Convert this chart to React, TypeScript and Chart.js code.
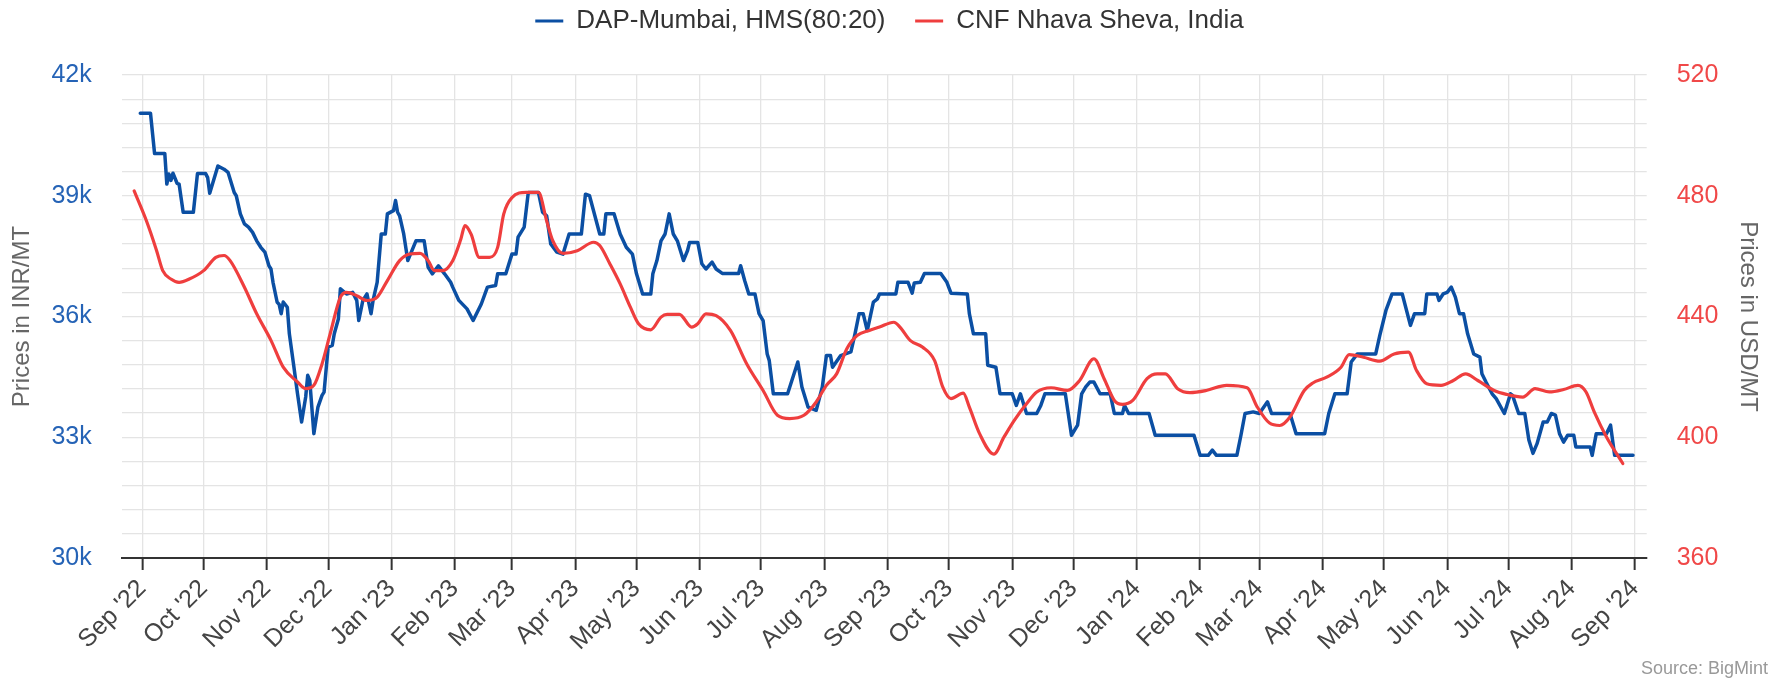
import React, { useEffect, useRef } from "react";
import { Chart, registerables } from "chart.js";

Chart.register(...registerables);

// ---------- DATA ----------
const dapDates = [
  "2022-08-31",
  "2022-09-05","2022-09-07","2022-09-12","2022-09-13","2022-09-14","2022-09-15","2022-09-16","2022-09-18","2022-09-19","2022-09-21","2022-09-26","2022-09-28",
  "2022-10-02","2022-10-03","2022-10-04","2022-10-08","2022-10-11","2022-10-13","2022-10-16","2022-10-17","2022-10-19","2022-10-21","2022-10-23","2022-10-25","2022-10-27","2022-10-29","2022-10-31",
  "2022-11-02","2022-11-03","2022-11-04","2022-11-06","2022-11-07","2022-11-08","2022-11-09","2022-11-11","2022-11-12","2022-11-14","2022-11-16","2022-11-18","2022-11-20","2022-11-21","2022-11-22","2022-11-24","2022-11-26","2022-11-28","2022-11-29",
  "2022-12-01","2022-12-03","2022-12-04","2022-12-06","2022-12-07","2022-12-10","2022-12-13","2022-12-15","2022-12-16","2022-12-18","2022-12-20","2022-12-22","2022-12-23","2022-12-25","2022-12-27","2022-12-29","2022-12-30",
  "2023-01-02","2023-01-03","2023-01-04","2023-01-05","2023-01-07","2023-01-09","2023-01-13","2023-01-17","2023-01-19","2023-01-21","2023-01-24","2023-01-27","2023-01-30","2023-01-31",
  "2023-02-03","2023-02-07","2023-02-10","2023-02-14","2023-02-17","2023-02-21","2023-02-22","2023-02-26",
  "2023-03-01","2023-03-03","2023-03-04","2023-03-07","2023-03-09","2023-03-14","2023-03-16","2023-03-18","2023-03-20","2023-03-23","2023-03-26","2023-03-29",
  "2023-04-04","2023-04-06","2023-04-08","2023-04-13","2023-04-15","2023-04-16","2023-04-20","2023-04-23","2023-04-26","2023-04-29",
  "2023-05-01","2023-05-04","2023-05-08","2023-05-09","2023-05-11","2023-05-13","2023-05-15","2023-05-17","2023-05-19","2023-05-21","2023-05-24","2023-05-26","2023-05-27","2023-05-31",
  "2023-06-02","2023-06-04","2023-06-07","2023-06-09","2023-06-12","2023-06-20","2023-06-21","2023-06-23","2023-06-25","2023-06-28","2023-06-30",
  "2023-07-02","2023-07-04","2023-07-05","2023-07-07","2023-07-14","2023-07-19","2023-07-21","2023-07-24","2023-07-28","2023-07-31",
  "2023-08-02","2023-08-04","2023-08-05","2023-08-09","2023-08-14","2023-08-16","2023-08-18","2023-08-20","2023-08-22","2023-08-25","2023-08-27","2023-08-28",
  "2023-09-05","2023-09-06","2023-09-11","2023-09-13","2023-09-14","2023-09-17","2023-09-19","2023-09-27","2023-09-30",
  "2023-10-02","2023-10-10","2023-10-11","2023-10-13","2023-10-19","2023-10-20","2023-10-24","2023-10-26",
  "2023-11-01","2023-11-03","2023-11-05","2023-11-08","2023-11-13","2023-11-15","2023-11-17","2023-11-27","2023-11-30",
  "2023-12-03","2023-12-05","2023-12-07","2023-12-09","2023-12-11","2023-12-14","2023-12-19","2023-12-21","2023-12-25","2023-12-26","2023-12-28",
  "2024-01-07","2024-01-10","2024-01-29",
  "2024-02-01","2024-02-05","2024-02-07","2024-02-09","2024-02-19","2024-02-21","2024-02-23","2024-02-27",
  "2024-03-01","2024-03-05","2024-03-07","2024-03-16","2024-03-19",
  "2024-04-02","2024-04-04","2024-04-07","2024-04-13","2024-04-15","2024-04-18","2024-04-27","2024-04-29",
  "2024-05-02","2024-05-05","2024-05-10","2024-05-14","2024-05-16","2024-05-21","2024-05-22","2024-05-27","2024-05-28","2024-05-30",
  "2024-06-01","2024-06-03","2024-06-05","2024-06-07","2024-06-09","2024-06-11","2024-06-14","2024-06-17","2024-06-18","2024-06-20","2024-06-23","2024-06-25","2024-06-29",
  "2024-07-02","2024-07-03","2024-07-06","2024-07-09","2024-07-11","2024-07-13","2024-07-15","2024-07-18","2024-07-20","2024-07-22","2024-07-24","2024-07-26","2024-07-28","2024-07-30",
  "2024-08-02","2024-08-03","2024-08-10","2024-08-11","2024-08-13","2024-08-18","2024-08-20","2024-08-22","2024-08-31",
];

const dapValues = [
  41050,
  41050,40050,40050,39290,39540,39380,39560,39310,39290,38590,38590,39550,
  39550,39450,39060,39740,39660,39580,39080,39000,38550,38300,38220,38090,37880,37720,37600,
  37260,37180,36850,36360,36300,36070,36360,36230,35570,34830,34080,33380,34000,34540,34410,33090,33750,34040,34120,
  35240,35280,35570,35940,36690,36560,36600,36400,35900,36400,36560,36070,36400,36850,38050,38050,38550,
  38630,38880,38590,38500,38050,37390,37880,37880,37220,37060,37260,37060,36850,36730,
  36400,36190,35900,36310,36730,36770,37060,37060,
  37550,37550,37970,38220,39080,39080,38590,38500,37800,37600,37550,38050,
  38050,39040,39000,38050,38050,38550,38550,38050,37720,37550,
  37060,36560,36560,37060,37390,37880,38050,38550,38050,37880,37390,37640,37840,37840,
  37310,37180,37350,37180,37070,37070,37260,36890,36560,36560,36070,
  35900,35070,34910,34080,34080,34870,34250,33750,33670,34250,
  35030,35030,34740,35030,35120,35570,36070,36070,35650,36360,36440,36560,
  36560,36850,36850,36580,36830,36850,37070,37070,36850,
  36580,36560,36070,35570,35570,34790,34740,34080,
  34080,33790,34080,33590,33590,33790,34080,34080,33050,
  33300,34080,34250,34370,34370,34080,34080,33590,33590,33790,33590,
  33590,33050,33050,
  32550,32550,32680,32550,32550,33050,33590,33630,
  33590,33880,33590,33590,33090,
  33090,33590,34080,34080,34870,35070,35070,35530,
  36150,36560,36560,35780,36070,36070,36560,36560,36400,36560,
  36600,36730,36480,36070,36070,35570,35070,34990,34580,34370,34080,33960,33590,
  34080,34040,33590,33590,32930,32600,32840,33380,33380,33590,33550,33090,32880,33050,
  33050,32760,32760,32550,33090,33090,33300,32550,32550,
];

const cnfDates = [
  "2022-08-28",
  "2022-09-03","2022-09-08","2022-09-11","2022-09-15","2022-09-19","2022-09-24",
  "2022-10-01","2022-10-07","2022-10-11","2022-10-14","2022-10-21","2022-10-27",
  "2022-11-03","2022-11-09","2022-11-16","2022-11-20","2022-11-24","2022-11-28",
  "2022-12-02","2022-12-07","2022-12-10","2022-12-15","2022-12-20","2022-12-25","2022-12-30",
  "2023-01-05","2023-01-10","2023-01-15","2023-01-19","2023-01-22","2023-01-26","2023-01-31",
  "2023-02-04","2023-02-06","2023-02-09","2023-02-13","2023-02-18","2023-02-22","2023-02-25",
  "2023-03-01","2023-03-08","2023-03-14","2023-03-18","2023-03-21","2023-03-26",
  "2023-04-02","2023-04-10","2023-04-13","2023-04-18","2023-04-23","2023-04-28",
  "2023-05-02","2023-05-08","2023-05-13","2023-05-16","2023-05-22","2023-05-28","2023-05-31",
  "2023-06-04","2023-06-09","2023-06-16","2023-06-24",
  "2023-07-02","2023-07-09","2023-07-15","2023-07-22","2023-07-28",
  "2023-08-02","2023-08-07","2023-08-12","2023-08-17","2023-08-23","2023-08-28",
  "2023-09-04","2023-09-07","2023-09-12","2023-09-18","2023-09-24","2023-09-28",
  "2023-10-02","2023-10-08","2023-10-11","2023-10-16","2023-10-23","2023-10-28",
  "2023-11-02","2023-11-08","2023-11-13","2023-11-20","2023-11-28",
  "2023-12-04","2023-12-11","2023-12-16","2023-12-21","2023-12-25","2023-12-30",
  "2024-01-06","2024-01-11","2024-01-15","2024-01-21","2024-01-27",
  "2024-02-04","2024-02-14","2024-02-24","2024-02-29",
  "2024-03-06","2024-03-11","2024-03-16","2024-03-23","2024-03-27",
  "2024-04-03","2024-04-10","2024-04-14","2024-04-21","2024-04-29",
  "2024-05-06","2024-05-13","2024-05-17","2024-05-22","2024-05-29",
  "2024-06-04","2024-06-10","2024-06-16","2024-06-24","2024-06-30",
  "2024-07-08","2024-07-14","2024-07-21","2024-07-28",
  "2024-08-04","2024-08-08","2024-08-12","2024-08-18","2024-08-26",
];

const cnfValues = [
  481.6,
  471.7,461.8,455.2,452.4,451.3,452.4,
  455.2,459.6,460.2,458.5,449.7,440.9,
  432.1,423.2,418.3,416.1,417.2,424.3,
  434.3,446.4,448.0,446.9,445.3,446.4,451.9,
  458.5,460.7,460.9,458.5,455.2,455.2,458.5,
  465.7,470.1,467.3,459.6,459.6,462.9,474.0,
  479.4,481.1,481.1,471.7,465.1,460.9,
  461.8,464.6,463.5,457.4,450.8,443.1,
  437.6,435.6,439.8,440.7,440.7,436.5,437.6,
  440.9,440.3,435.4,424.3,
  415.5,407.3,406.2,407.3,411.7,
  417.2,421.0,429.3,433.7,435.4,436.5,
  438.1,436.5,432.1,429.9,425.4,416.6,
  412.8,414.6,410.0,401.2,394.4,400.1,
  405.6,411.1,415.0,416.4,415.5,
  418.8,426.0,419.4,412.2,410.9,412.2,
  419.4,421.0,421.0,416.1,414.8,
  415.5,417.2,416.4,410.0,
  404.7,403.9,406.7,415.5,417.9,
  419.9,423.2,427.4,426.5,425.2,
  427.6,428.2,422.1,417.7,417.2,
  418.8,421.0,418.8,415.5,414.2,
  413.3,416.1,415.0,415.8,
  417.2,415.0,408.4,400.1,391.3,
];

const xTickDates = [
  "2022-09-01","2022-10-01","2022-11-01","2022-12-01","2023-01-01","2023-02-01","2023-03-01",
  "2023-04-01","2023-05-01","2023-06-01","2023-07-01","2023-08-01","2023-09-01","2023-10-01",
  "2023-11-01","2023-12-01","2024-01-01","2024-02-01","2024-03-01","2024-04-01","2024-05-01",
  "2024-06-01","2024-07-01","2024-08-01","2024-09-01",
];
const xTickLabels = [
  "Sep '22","Oct '22","Nov '22","Dec '22","Jan '23","Feb '23","Mar '23",
  "Apr '23","May '23","Jun '23","Jul '23","Aug '23","Sep '23","Oct '23",
  "Nov '23","Dec '23","Jan '24","Feb '24","Mar '24","Apr '24","May '24",
  "Jun '24","Jul '24","Aug '24","Sep '24",
];

const leftTickValues = [30000, 33000, 36000, 39000, 42000];
const leftTickLabels = ["30k", "33k", "36k", "39k", "42k"];
const rightTickValues = [360, 400, 440, 480, 520];
const rightTickLabels = ["360", "400", "440", "480", "520"];

const seriesNames = ["DAP-Mumbai, HMS(80:20)", "CNF Nhava Sheva, India"];

// ---------- STYLE ----------
const BLUE_LINE = "#0b4fa3";
const BLUE_TXT = "#2563b6";
const RED_LINE = "#ef3e3e";
const RED_TXT = "#f04848";
const GRID = "#e4e4e4";
const FONT = "'Liberation Sans', Arial, Helvetica, sans-serif";

const toTs = (d: string) => Date.parse(d + "T00:00:00Z");

export default function App() {
  const ref = useRef<HTMLCanvasElement>(null);

  useEffect(() => {
    document.body.style.margin = "0";
    const canvas = ref.current;
    if (!canvas) return;

    Chart.defaults.font.family = FONT;

    const DAY = 86400000;
    const base = toTs("2022-09-01");
    const xMin = base - 10.1 * DAY;
    const xMax = base + 736.7 * DAY;

    const legendSpacer = {
      id: "legendSpacer",
      beforeLayout(chart: any) {
        const lg = chart.legend;
        if (lg && !lg.__patched) {
          const fit = lg.fit;
          lg.fit = function () {
            fit.call(this);
            this.height += 31;
          };
          lg.__patched = true;
        }
      },
    };

    const leftGrid: number[] = [];
    for (let v = 30000; v <= 42000; v += 600) leftGrid.push(v);
    const rightGrid: number[] = [];
    for (let v = 360; v <= 520; v += 8) rightGrid.push(v);

    const chart = new Chart(canvas, {
      type: "line",
      data: {
        datasets: [
          {
            label: seriesNames[0] + "   ",
            data: dapDates.map((d, i) => ({ x: toTs(d), y: dapValues[i] })),
            borderColor: BLUE_LINE,
            backgroundColor: BLUE_LINE,
            borderWidth: 3.5,
            pointRadius: 0,
            tension: 0,
            borderJoinStyle: "round",
            borderCapStyle: "round",
            yAxisID: "y",
            order: 1,
          },
          {
            label: seriesNames[1],
            data: cnfDates.map((d, i) => ({ x: toTs(d), y: cnfValues[i] })),
            borderColor: RED_LINE,
            backgroundColor: RED_LINE,
            borderWidth: 3.2,
            pointRadius: 0,
            cubicInterpolationMode: "monotone",
            borderJoinStyle: "round",
            borderCapStyle: "round",
            yAxisID: "y1",
            order: 0,
          },
        ],
      },
      options: {
        animation: false,
        responsive: false,
        devicePixelRatio: 1,
        layout: { padding: 0 },
        plugins: {
          legend: {
            position: "top",
            align: "center",
            labels: {
              boxWidth: 28,
              boxHeight: 3,
              padding: 8,
              color: "#333",
              font: { size: 26, family: FONT },
              sort: (a: any, b: any) => a.datasetIndex - b.datasetIndex,
              generateLabels: (ch: any) =>
                (Chart.defaults.plugins.legend.labels.generateLabels as any)(ch).map((l: any) => ({
                  ...l,
                  fillStyle: l.strokeStyle,
                  lineWidth: 0,
                })),
            },
          },
          tooltip: { enabled: false },
        },
        scales: {
          x: {
            type: "linear",
            min: xMin,
            max: xMax,
            afterBuildTicks: (s: any) => {
              s.ticks = xTickDates.map((d) => ({ value: toTs(d) }));
            },
            afterFit: (s: any) => {
              s.height = 123;
            },
            grid: {
              color: GRID,
              lineWidth: 1.3,
              drawTicks: true,
              tickLength: 12,
              tickColor: "#333",
              tickWidth: 2,
            },
            border: { display: true, color: "#333", width: 2 },
            ticks: {
              autoSkip: false,
              minRotation: 45,
              maxRotation: 45,
              padding: 4,
              color: "#444",
              font: { size: 25, family: FONT },
              callback: (_v: any, i: number) => xTickLabels[i] ?? "",
            },
          },
          y: {
            type: "linear",
            position: "left",
            min: 30000,
            max: 42000,
            afterBuildTicks: (s: any) => {
              s.ticks = leftGrid.map((v) => ({ value: v }));
            },
            afterFit: (s: any) => {
              s.width = 121.7;
            },
            grid: { color: GRID, lineWidth: 1.3, drawTicks: false },
            border: { display: false },
            ticks: {
              autoSkip: false,
              padding: 30,
              color: BLUE_TXT,
              font: { size: 25, family: FONT },
              callback: (v: any) => {
                const i = leftTickValues.indexOf(Number(v));
                return i >= 0 ? leftTickLabels[i] : "";
              },
            },
            title: {
              display: true,
              text: "Prices in INR/MT",
              color: "#666",
              font: { size: 24, family: FONT },
              padding: { top: 8, bottom: 0 },
            },
          },
          y1: {
            type: "linear",
            position: "right",
            min: 360,
            max: 520,
            afterBuildTicks: (s: any) => {
              s.ticks = rightGrid.map((v) => ({ value: v }));
            },
            afterFit: (s: any) => {
              s.width = 132.3;
            },
            grid: { drawOnChartArea: false, drawTicks: false },
            border: { display: false },
            ticks: {
              autoSkip: false,
              padding: 30,
              color: RED_TXT,
              font: { size: 25, family: FONT },
              callback: (v: any) => {
                const i = rightTickValues.indexOf(Number(v));
                return i >= 0 ? rightTickLabels[i] : "";
              },
            },
            title: {
              display: true,
              text: "Prices in USD/MT",
              color: "#666",
              font: { size: 24, family: FONT },
              padding: { top: 17, bottom: 0 },
            },
          },
        },
      },
      plugins: [legendSpacer],
    } as any);

    return () => chart.destroy();
  }, []);

  return (
    <div style={{ position: "relative", width: 1779, height: 681, background: "#fff" }}>
      <canvas ref={ref} width={1779} height={681} style={{ display: "block" }} />
      <div
        style={{
          position: "absolute",
          right: 11,
          top: 657,
          fontFamily: FONT,
          fontSize: 18,
          color: "#999",
          lineHeight: "22px",
          whiteSpace: "nowrap",
        }}
      >
        Source: BigMint
      </div>
    </div>
  );
}
